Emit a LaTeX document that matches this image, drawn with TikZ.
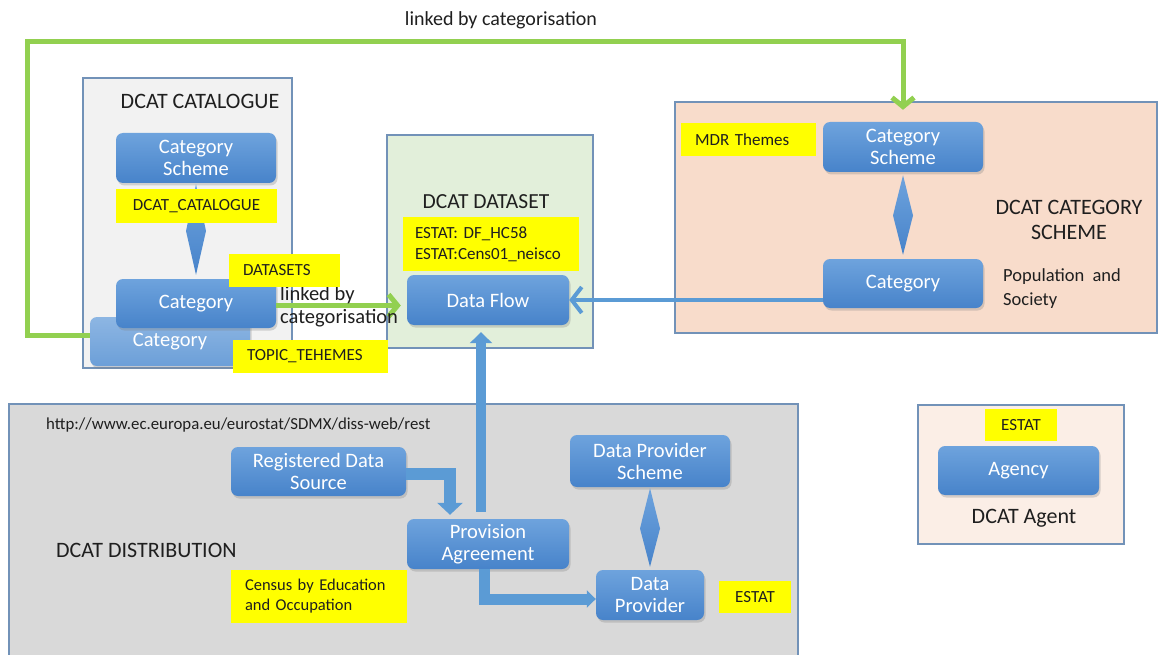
\documentclass[tikz,border=0pt]{standalone}
\usepackage{fontspec}
\setmainfont{Carlito}
\frenchspacing
\usetikzlibrary{arrows.meta,shadows,calc}
\definecolor{bluetop}{HTML}{6EA3DD}
\definecolor{bluebot}{HTML}{4783CA}
\definecolor{fadetop}{HTML}{8DB6E3}
\definecolor{fadebot}{HTML}{6C9FD8}
\definecolor{arrowblue}{HTML}{5B9BD5}
\definecolor{lgreen}{HTML}{92D050}
\definecolor{frameblue}{HTML}{7292B8}
\definecolor{catfill}{HTML}{F2F2F2}
\definecolor{dsfill}{HTML}{E2EFDA}
\definecolor{csfill}{HTML}{F8DCCB}
\definecolor{distfill}{HTML}{D9D9D9}
\definecolor{agfill}{HTML}{FBEEE6}
\definecolor{ylw}{HTML}{FFFF00}
\definecolor{txt}{HTML}{1F1F1F}
\tikzset{
  wh/.style 2 args={minimum width=#1pt, minimum height=#2pt},
  bbox/.style={rounded corners=7pt, top color=bluetop, bottom color=bluebot,
    draw=none, text=white, font=\fontsize{20.5}{22}\selectfont, align=center,
    inner sep=0pt,
    drop shadow={shadow xshift=1.5pt, shadow yshift=-2.5pt, opacity=0.3}},
  fadebox/.style={bbox, top color=fadetop, bottom color=fadebot},
  ylab/.style={fill=ylw, inner ysep=0pt, text=txt, font=\fontsize{17}{21}\selectfont, align=left},
  ylabc/.style={fill=ylw, inner sep=0pt, text=txt, font=\fontsize{17}{21}\selectfont, align=center},
  panel/.style={draw=frameblue, line width=1.2pt, inner sep=0pt},
  title/.style={text=txt, font=\fontsize{22}{25}\selectfont, align=center, inner sep=0pt},
  plain/.style={text=txt, inner sep=0pt},
  greenarr/.style={draw=lgreen, line width=5pt, -{Straight Barb[length=9pt,width=22pt]}},
  bluearr/.style={draw=arrowblue, line width=4pt, -{Straight Barb[length=10pt,width=26pt]}},
  blockarr/.style={draw=arrowblue, line width=10pt, -{Triangle[length=11pt,width=22pt]}},
  diam/.style={top color=bluetop, bottom color=bluebot, draw=none},
}
\begin{document}
\begin{tikzpicture}[x=1pt,y=-1pt]
\useasboundingbox (0,0) rectangle (1158,655);
\fill[white] (0,0) rectangle (1158,655);

% panels
\node[panel, fill=catfill, wh={209}{290}] (pcat) at (187.5,223) {};
\node[panel, fill=dsfill, wh={206}{213}] (pds) at (490,241.5) {};
\node[panel, fill=csfill, wh={482}{231}] (pcs) at (916,217.5) {};
\fill[distfill] (9,404) rectangle (798,655);
\draw[frameblue, line width=1.2pt] (9,655) -- (9,404) -- (798,404) -- (798,655);
\node[panel, fill=agfill, wh={206}{139}] (pag) at (1021,474.5) {};

% titles
\node[title] (tcat) at (200,101) {DCAT CATALOGUE};
\node[title, font=\fontsize{21.5}{25}\selectfont] (tds) at (486,202) {DCAT DATASET};
\node[title] (tcs) at (1069,219.5) {DCAT CATEGORY\\SCHEME};
\node[title, anchor=west] (tdist) at (56,550) {DCAT DISTRIBUTION};
\node[title] (tag) at (1024,518) {DCAT Agent};
\node[plain, anchor=west, align=left, font=\fontsize{18.5}{24}\selectfont] (pop) at (1003,289) {Population~~and\\Society};
\node[plain, anchor=west, font=\fontsize{16.8}{20}\selectfont] (url) at (46,425) {http://www.ec.europa.eu/eurostat/SDMX/diss-web/rest};
\node[plain, font=\fontsize{20}{23}\selectfont] (ltop) at (501,20) {linked by categorisation};

% blue nodes
\node[fadebox, wh={160}{49}] (catback) at (170,341.5) {\raisebox{-3pt}{Category}};
\node[bbox, wh={160}{50}] (cs0) at (196,158) {Category\\Scheme};
\node[bbox, wh={160}{49}] (catfront) at (196,303.5) {Category};
\node[bbox, wh={162}{50}] (df) at (488,300) {Data Flow};
\node[bbox, wh={160}{50}] (cs1) at (903,147) {Category\\Scheme};
\node[bbox, wh={160}{49}] (cat2) at (903,283.5) {Category};
\node[bbox, wh={175}{49}] (rds) at (318.5,471.5) {Registered Data\\Source};
\node[bbox, wh={162}{50}] (pa) at (488,544) {Provision\\Agreement};
\node[bbox, wh={160}{52}] (dps) at (650,461) {Data Provider\\Scheme};
\node[bbox, wh={108}{50}] (dp) at (650,595) {Data\\Provider};
\node[bbox, wh={161}{49}] (agency) at (1018.5,470.5) {Agency};

% diamonds
\path[diam] ([yshift=-1pt]cs0.south) -- ($(cs0.south)!0.5!(catfront.north)+(10,0)$) -- ([yshift=4pt]catfront.north) -- ($(cs0.south)!0.5!(catfront.north)+(-10,0)$) -- cycle;
\path[diam] ([yshift=-3pt]cs1.south) -- ($(cs1.south)!0.5!(cat2.north)+(10,0)$) -- ([yshift=4pt]cat2.north) -- ($(cs1.south)!0.5!(cat2.north)+(-10,0)$) -- cycle;
\path[diam] ([yshift=-1pt]dps.south) -- ($(dps.south)!0.5!(dp.north)+(10,0)$) -- ([yshift=3pt]dp.north) -- ($(dps.south)!0.5!(dp.north)+(-10,0)$) -- cycle;

% connectors
\coordinate (topy) at (0,42);
\draw[greenarr] ([yshift=6pt]catback.west) -- ++(-62,0) |- (cs1.north |- topy) -- ([yshift=12pt]cs1.north);
\draw[greenarr, shorten >=6pt] ([yshift=-2pt]catfront.east) -- ([yshift=-2pt]catfront.east -| df.west);
\draw[bluearr] (cat2.west |- df.east) -- (df.east);
\draw[blockarr, shorten <=7pt, shorten >=7pt] ([xshift=-7pt]pa.north) -- ([xshift=-7pt]df.south);
\draw[blockarr, line width=12pt, -{Triangle[length=12pt,width=25pt]}, shorten >=4pt] ([yshift=-2pt]rds.east) -| ([xshift=-38pt]pa.north);
\draw[blockarr, line width=11pt, -{Triangle[length=9pt,width=17pt]}] ([xshift=-4pt]pa.south) |- ([yshift=-4pt]dp.west);

\node[plain, anchor=west, align=left, font=\fontsize{20.5}{23}\selectfont] (lmid) at (280,306.5) {linked by\\categorisation};

% yellow labels
\node[ylabc, wh={161}{34}] (lcat) at (196.5,206) {DCAT\_CATALOGUE};
\node[ylab, inner xsep=14pt, text width=83pt, wh={111}{33}] (lds) at (284.5,270.5) {DATASETS};
\node[ylab, inner xsep=14pt, text width=127pt, wh={155}{33}] (ltt) at (310.5,356.5) {TOPIC\_TEHEMES};
\node[ylab, inner xsep=12pt, text width=152pt, wh={176}{54}] (lestat) at (491,244) {ESTAT: DF\_HC58\\ESTAT:Cens01\_neisco};
\node[ylab, inner xsep=14pt, text width=107pt, wh={135}{33}] (lmdr) at (748.5,139.5) {MDR Themes};
\node[ylabc, wh={72}{32}] (lag) at (1021,425) {ESTAT};
\node[ylab, inner xsep=14pt, text width=148pt, wh={176}{53}, font=\fontsize{16.5}{20}\selectfont] (lcen) at (319,596.5) {Census by Education\\and Occupation};
\node[ylabc, wh={72}{32}] (ldp) at (755,597) {ESTAT};
\end{tikzpicture}
\end{document}
